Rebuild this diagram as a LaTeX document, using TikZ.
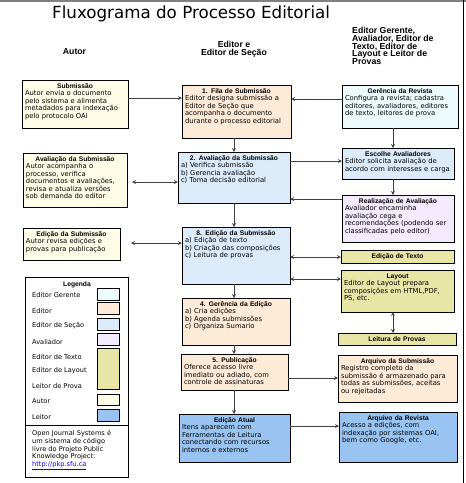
\documentclass[tikz,border=0pt]{standalone}
\usepackage{fontspec}
\setmainfont{DejaVu Sans}
\newfontfamily\negrito{Liberation Sans}
\usetikzlibrary{arrows}
\definecolor{corautor}{HTML}{FFFDE8}
\definecolor{coreditor}{HTML}{FDEBD8}
\definecolor{corsecao}{HTML}{DCEBFA}
\definecolor{coravaliador}{HTML}{F3EAFC}
\definecolor{cortexto}{HTML}{E8E6A6}
\definecolor{corleitor}{HTML}{99C4F2}
\definecolor{corgerente}{HTML}{EEFBFD}
\newcommand{\corpo}{\fontsize{6.8}{7.4}\selectfont}
\newcommand{\titcaixa}[1]{{\negrito\bfseries\fontsize{6.7}{7.4}\selectfont\hfill#1\hfill\null}\\}
\tikzset{
  caixa/.style={draw=black, line width=0.7pt, anchor=north west, inner xsep=3pt, inner ysep=2.5pt,
    outer sep=0pt, align=left, text height=6pt, font=\corpo},
  cabecalho/.style={font=\negrito\bfseries\fontsize{8.7}{7.8}\selectfont, inner sep=0pt},
  linha/.style={draw=black!75, line width=0.8pt},
  legtxt/.style={anchor=west, inner sep=0pt, font=\fontsize{6.6}{7.4}\selectfont},
  amostra/.style={draw=black, line width=0.6pt, anchor=north west, inner sep=0pt, outer sep=0pt,
    minimum width=22pt}
}
\begin{document}
\begin{tikzpicture}[x=1pt, y=-1pt, >=stealth]
    \useasboundingbox (0,0) rectangle (466,483);
    \draw[gray, line width=2pt] (0,1) -- (466,1);
    \draw[line width=1pt] (463,0) -- (463,483);
    % titulo e colunas
    \node[anchor=base west, inner sep=0pt, font=\fontsize{16.7}{20}\selectfont] (titulo) at (52,18) {Fluxograma do Processo Editorial};
    \node[cabecalho] (hautor) at (74.5,52) {Autor};
    \node[cabecalho, align=center] (heditor) at (234,49) {Editor e\\Editor de Seção};
    \node[cabecalho, anchor=north west, align=left] (houtros) at (352,27) {Editor Gerente,\\Avaliador, Editor de\\Texto, Editor de\\Layout e Leitor de\\Provas};
    % coluna do autor
    \node[caixa, fill=corautor, text width=100pt, text depth=37pt] (submissao) at (22,80)
        {\titcaixa{Submissão}Autor envia o documento\\pelo sistema e alimenta\\metadados para indexação\\pelo protocolo OAI};
    \node[caixa, fill=corautor, text width=98pt, text depth=43pt] (avaliacao) at (23,153)
        {\titcaixa{Avaliação da Submissão}Autor acompanha o\\processo, verifica\\documentos e avaliações,\\revisa e atualiza versões\\sob demanda do editor};
    \node[caixa, fill=corautor, text width=91pt, text depth=21pt] (edicao) at (23,228)
        {\titcaixa{Edição da Submissão}Autor revisa edições e\\provas para publicação};
    % coluna do editor
    \node[caixa, fill=coreditor, text width=103pt, text depth=42pt] (fila) at (182,85)
        {\titcaixa{1. Fila de Submissão}Editor designa submissão a\\Editor de Seção que\\acompanha o documento\\durante o processo editorial};
    \node[caixa, fill=corsecao, text width=106pt, text depth=40pt] (aval2) at (178,152)
        {\titcaixa{2. Avaliação da Submissão}a) Verifica submissão\\b) Gerencia avaliação\\c) Toma decisão editorial};
    \node[caixa, fill=corsecao, text width=102pt, text depth=46pt] (edicao8) at (182,227)
        {\titcaixa{8. Edição da Submissão}a) Edição de texto\\b) Criação das composições\\c) Leitura de provas};
    \node[caixa, fill=coreditor, text width=102pt, text depth=36pt] (gerencia4) at (182,298)
        {\titcaixa{4. Gerência da Edição}a) Cria edições\\b) Agenda submissões\\c) Organiza Sumario};
    \node[caixa, fill=coreditor, text width=101pt, text depth=25pt] (publicacao) at (181,354)
        {\titcaixa{5. Publicação}Oferece acesso livre\\imediato ou adiado, com\\controle de assinaturas};
    \node[caixa, fill=corleitor, text width=105pt, text depth=37pt] (atual) at (179,414)
        {\titcaixa{Edição Atual}Itens aparecem com\\Ferramentas de Leitura\\conectando com recursos\\internos e externos};
    % coluna dos outros papeis
    \node[caixa, fill=corgerente, text width=110pt, text depth=32pt] (revista) at (342,85)
        {\titcaixa{Gerência da Revista}Configura a revista; cadastra\\editores, avaliadores, editores\\de texto, leitores de prova};
    \node[caixa, fill=corsecao, text width=106pt, text depth=20pt] (escolhe) at (342,148)
        {\titcaixa{Escolhe Avaliadores}Editor solicita avaliação de\\acordo com interesses e carga};
    \node[caixa, fill=coravaliador, text width=106pt, text depth=36pt] (realizacao) at (342,195)
        {\titcaixa{Realização de Avaliação}Avaliador encaminha\\avaliação cega e\\recomendações (podendo ser\\classificadas pelo editor)};
    \node[caixa, fill=cortexto, text width=107pt, text depth=2pt] (texto) at (341,250)
        {\titcaixa{Edição de Texto}};
    \node[caixa, fill=cortexto, text width=107pt, text depth=31pt] (layout) at (341,270)
        {\titcaixa{Layout}Editor de Layout prepara\\composições em HTML,PDF,\\PS, etc.};
    \node[caixa, fill=cortexto, text width=112pt, text depth=1pt] (provas) at (338,333)
        {\titcaixa{Leitura de Provas}};
    \node[caixa, fill=coreditor, text width=113pt, text depth=36pt] (arqsub) at (338,355)
        {\titcaixa{Arquivo da Submissão}Registro completo da\\submissão é armazenado para\\todas as submissões, aceitas\\ou rejeitadas};
    \node[caixa, fill=corleitor, text width=112pt, text depth=39pt] (arqrev) at (339,412)
        {\titcaixa{Arquivo da Revista}Acesso a edições, com\\indexação por sistemas OAI,\\bem como Google, etc.};
    % ligacoes
    \draw[linha,->] (submissao.east |- 0,98) -- (fila.west |- 0,98);
    \draw[linha,->] (revista.west |- 0,99) -- (fila.east |- 0,99);
    \draw[linha,->] (fila.south -| 234,0) -- (aval2.north -| 234,0);
    \draw[linha,->] (revista.south -| 393,0) -- (escolhe.north -| 393,0);
    \draw[linha,->] (aval2.east |- 0,161) -- (escolhe.west |- 0,161);
    \draw[linha,->] (escolhe.south -| 393,0) -- (realizacao.north -| 393,0);
    \draw[linha,->] (realizacao.west |- 0,199) -- (aval2.east |- 0,199);
    \draw[linha,<->,shorten >=5pt] (aval2.west |- 0,182) -- (avaliacao.east |- 0,182);
    \draw[linha,->] (aval2.south -| 234,0) -- (edicao8.north -| 234,0);
    \draw[linha,<->,shorten >=11pt] (edicao8.west |- 0,243) -- (edicao.east |- 0,243);
    \draw[linha,<->] (edicao8.east |- 0,257) -- (texto.west |- 0,257);
    \draw[linha,<->] (edicao8.east |- 0,279) -- (layout.west |- 0,279);
    \draw[linha,<->] (layout.south -| 393,0) -- (provas.north -| 393,0);
    \draw[linha,->] (edicao8.south -| 234,0) -- (gerencia4.north -| 234,0);
    \draw[linha,->] (gerencia4.south -| 234,0) -- (publicacao.north -| 234,0);
    \draw[linha,->] (publicacao.south -| 234,0) -- (atual.north -| 234,0);
    \draw[linha,->] (publicacao.east |- 0,378) -- (arqsub.west |- 0,378);
    \draw[linha,->] (atual.east |- 0,426) -- (arqrev.west |- 0,426);
    % legenda
    \node[draw=black, line width=0.7pt, fill=white, anchor=north west, inner sep=0pt, outer sep=0pt,
        minimum width=103pt, minimum height=200pt] (legenda) at (25,277) {};
    \draw[line width=0.7pt] (legenda.west |- 0,425) -- (legenda.east |- 0,425);
    \node[inner sep=0pt, font=\negrito\bfseries\fontsize{6.7}{7.4}\selectfont] (tlegenda) at (77,285) {Legenda};
    \node[legtxt] (lgerente) at (32,295) {Editor Gerente};
    \node[legtxt] (leditor) at (32,311) {Editor};
    \node[legtxt] (lsecao) at (32,326) {Editor de Seção};
    \node[legtxt] (lavaliador) at (32,342) {Avaliador};
    \node[legtxt] (ltexto) at (32,357) {Editor de Texto};
    \node[legtxt] (llayout) at (32,371) {Editor de Layout};
    \node[legtxt] (lprova) at (32,386) {Leitor de Prova};
    \node[legtxt] (lautor) at (32,401) {Autor};
    \node[legtxt] (lleitor) at (32,417) {Leitor};
    \node[amostra, fill=corgerente, minimum height=12pt] (agerente) at (97,288) {};
    \node[amostra, fill=coreditor, minimum height=12pt] (aeditor) at (97,302) {};
    \node[amostra, fill=corsecao, minimum height=12pt] (asecao) at (97,318) {};
    \node[amostra, fill=coravaliador, minimum height=12pt] (aavaliador) at (97,333) {};
    \node[amostra, fill=cortexto, minimum height=41pt] (atexto) at (97,348) {};
    \node[amostra, fill=corautor, minimum height=11pt] (aautor) at (97,394) {};
    \node[amostra, fill=corleitor, minimum height=12pt] (aleitor) at (97,409) {};
    \node[anchor=north west, inner sep=0pt, align=left, font=\fontsize{6.6}{7.8}\selectfont] (ojs) at (32,430)
        {Open Journal Systems é\\um sistema de código\\livre do Projeto Public\\Knowledge Project:\\\textcolor{blue}{\underline{http://pkp.sfu.ca}}};
\end{tikzpicture}
\end{document}
